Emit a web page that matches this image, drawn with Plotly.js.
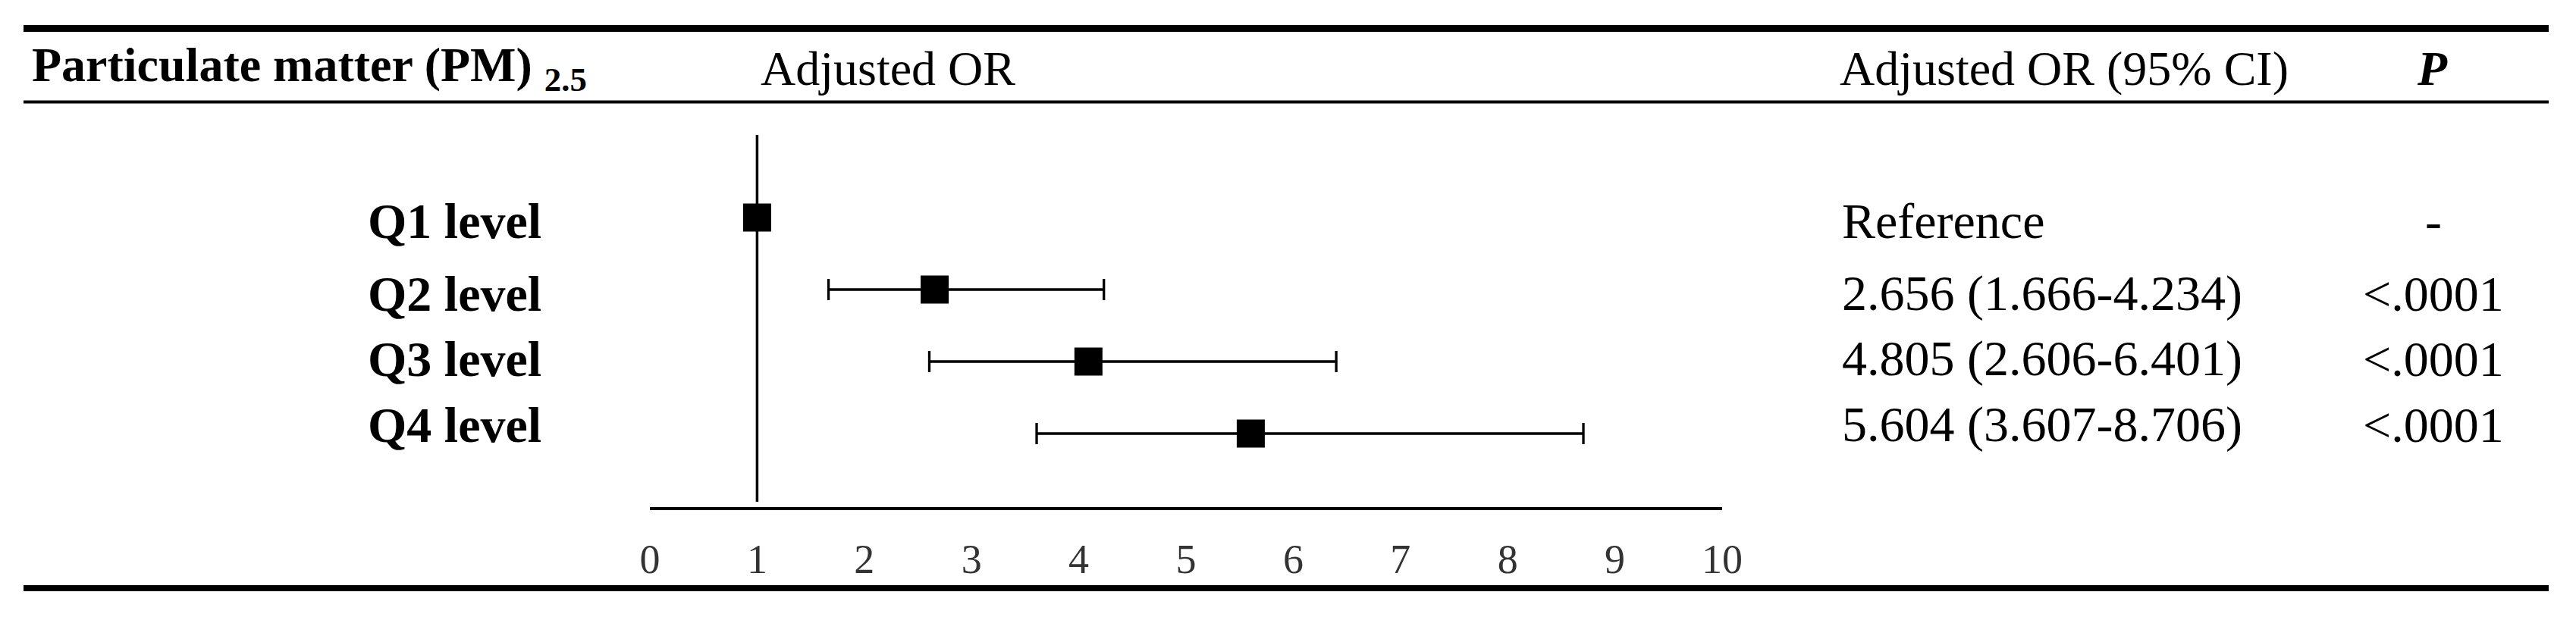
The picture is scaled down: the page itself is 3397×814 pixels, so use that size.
<!DOCTYPE html>
<html>
<head>
<meta charset="utf-8">
<script src="https://cdn.plot.ly/plotly-3.0.1.min.js"></script>
<style>
  html, body { margin: 0; padding: 0; background: #ffffff; overflow: hidden; }
  #chart { width: 3397px; height: 814px; }
</style>
</head>
<body>
<div id="chart"></div>
<script>
// ---------------- data ----------------
const categories = ['Q1 level', 'Q2 level', 'Q3 level', 'Q4 level'];
// odds-ratio point positions as drawn in the figure
const orPoint = [1, 2.656, 4.09, 5.604];
const ciLower = [null, 1.666, 2.606, 3.607];
const ciUpper = [null, 4.234, 6.401, 8.706];
const orText = ['Reference', '2.656 (1.666-4.234)', '4.805 (2.606-6.401)', '5.604 (3.607-8.706)'];
const pText = ['-', '<.0001', '<.0001', '<.0001'];
const tickValues = [0, 1, 2, 3, 4, 5, 6, 7, 8, 9, 10];
const tickLabels = ['0', '1', '2', '3', '4', '5', '6', '7', '8', '9', '10'];
const referenceOR = 1;
const headerExposure = 'Particulate matter (PM)';
const headerExposureSub = '2.5';
const headerPlot = 'Adjusted OR';
const headerCI = 'Adjusted OR (95% CI)';
const headerP = 'P';

// ---------------- layout geometry (pixels) ----------------
const W = 3397, H = 814;
const plotL = 857, plotR = 2271, plotT = 178, plotB = 669;
const pw = plotR - plotL, ph = plotB - plotT;
const px = p => (p - plotL) / pw;          // pixel x -> paper x
const py = p => (plotB - p) / ph;          // pixel y -> paper y
const rowPx = 95;                          // pixels per row
const firstRowPx = 287;
const yTop = 1 - (firstRowPx - plotT) / rowPx;
const yBot = yTop + ph / rowPx;
const textRowPx = [291, 387, 473, 560];

const FONT = '"Liberation Serif", "Times New Roman", Times, serif';
const esc = s => s.replace(/&/g, '&amp;').replace(/</g, '&lt;').replace(/>/g, '&gt;');

const rowIdx = categories.map((_, i) => i + 1);
const errPlus = orPoint.map((v, i) => ciUpper[i] == null ? null : ciUpper[i] - v);
const errMinus = orPoint.map((v, i) => ciLower[i] == null ? null : v - ciLower[i]);

const trace = {
  type: 'scatter',
  mode: 'markers',
  x: orPoint,
  y: rowIdx,
  marker: { symbol: 'square', size: 37, color: '#000000', line: { width: 0 } },
  error_x: {
    type: 'data',
    symmetric: false,
    array: errPlus,
    arrayminus: errMinus,
    color: '#000000',
    thickness: 3.3,
    width: 14
  },
  hoverinfo: 'skip',
  showlegend: false,
  cliponaxis: false
};

const HDR = 64, ROW = 66;
const annotations = [];
const hdrY = py(90);
annotations.push({
  xref: 'paper', yref: 'paper', x: px(40), y: hdrY, xanchor: 'left', yanchor: 'middle',
  text: '<b>' + headerExposure + ' <sub>' + headerExposureSub + '</sub></b>',
  showarrow: false, font: { family: FONT, size: HDR, color: '#000' }
});
annotations.push({
  xref: 'paper', yref: 'paper', x: px(1001), y: hdrY, xanchor: 'left', yanchor: 'middle',
  text: headerPlot, showarrow: false, font: { family: FONT, size: HDR, color: '#000' }
});
annotations.push({
  xref: 'paper', yref: 'paper', x: px(2424), y: hdrY, xanchor: 'left', yanchor: 'middle',
  text: headerCI, showarrow: false, font: { family: FONT, size: HDR, color: '#000' }
});
annotations.push({
  xref: 'paper', yref: 'paper', x: px(3207), y: hdrY, xanchor: 'center', yanchor: 'middle',
  text: '<b><i>' + headerP + '</i></b>', showarrow: false, font: { family: FONT, size: HDR, color: '#000' }
});

categories.forEach((c, i) => {
  const yy = py(textRowPx[i]);
  annotations.push({
    xref: 'paper', yref: 'paper', x: px(716), y: yy, xanchor: 'right', yanchor: 'middle',
    text: '<b>' + esc(c) + '</b>', showarrow: false, font: { family: FONT, size: ROW, color: '#000' }
  });
  annotations.push({
    xref: 'paper', yref: 'paper', x: px(2427), y: yy, xanchor: 'left', yanchor: 'middle',
    text: esc(orText[i]), showarrow: false, font: { family: FONT, size: ROW, color: '#000' }
  });
  annotations.push({
    xref: 'paper', yref: 'paper', x: px(3209), y: yy, xanchor: 'center', yanchor: 'middle',
    text: esc(pText[i]), showarrow: false, font: { family: FONT, size: ROW, color: '#000' }
  });
});

const shapes = [
  { type: 'line', xref: 'paper', yref: 'paper', x0: px(31), x1: px(3361), y0: py(37.5), y1: py(37.5),
    line: { color: '#000', width: 9 } },
  { type: 'line', xref: 'paper', yref: 'paper', x0: px(31), x1: px(3361), y0: py(134.5), y1: py(134.5),
    line: { color: '#000', width: 4 } },
  { type: 'line', xref: 'paper', yref: 'paper', x0: px(31), x1: px(3361), y0: py(776), y1: py(776),
    line: { color: '#000', width: 8 } },
  { type: 'line', xref: 'x', yref: 'paper', x0: referenceOR, x1: referenceOR, y0: py(662), y1: 1,
    line: { color: '#000', width: 3.5 }, layer: 'below' }
];

const layout = {
  width: W, height: H,
  margin: { l: plotL, r: W - plotR, t: plotT, b: H - plotB, pad: 0 },
  paper_bgcolor: '#ffffff',
  plot_bgcolor: '#ffffff',
  showlegend: false,
  xaxis: {
    range: [0, 10], autorange: false,
    tickmode: 'array', tickvals: tickValues, ticktext: tickLabels,
    showline: true, linecolor: '#000', linewidth: 4,
    ticks: '', showgrid: false, zeroline: false,
    tickfont: { family: FONT, size: 54, color: '#333' },
    ticklabelstandoff: 18,
    fixedrange: true
  },
  yaxis: {
    range: [yBot, yTop], autorange: false,
    visible: false, showgrid: false, zeroline: false, fixedrange: true
  },
  annotations: annotations,
  shapes: shapes
};

Plotly.newPlot('chart', [trace], layout, { staticPlot: true, displayModeBar: false });
</script>
</body>
</html>
